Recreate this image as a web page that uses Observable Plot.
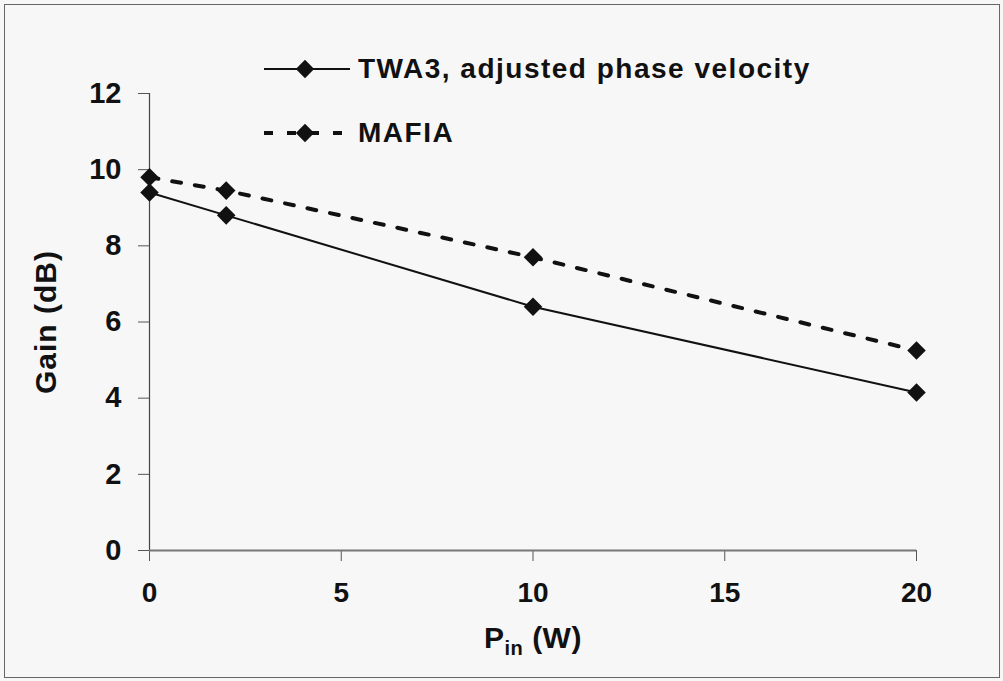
<!DOCTYPE html>
<html><head><meta charset="utf-8">
<script src="https://cdn.jsdelivr.net/npm/d3@7"></script>
<script src="https://cdn.jsdelivr.net/npm/@observablehq/plot@0.6"></script>
<style>
html,body{margin:0;padding:0;background:#f7f7f7;}
#wrap{position:relative;width:1003px;height:681px;overflow:hidden;font-family:"Liberation Sans",Arial,sans-serif;font-weight:bold;color:#111;}
#frame{position:absolute;left:4px;top:4px;width:996px;height:674px;border:1.5px solid #666;box-sizing:border-box;}
#chart{position:absolute;left:0;top:0;}
.leg{position:absolute;display:flex;align-items:center;font-size:28px;letter-spacing:1.5px;height:32px;}
.leg svg{margin-right:6px;}
#xtitle{position:absolute;left:484px;top:621px;font-size:30px;letter-spacing:0.5px;}
#xtitle sub{font-size:20px;vertical-align:-7px;}
#chart text.ytitle{letter-spacing:1px;}
</style>
</head><body>
<div id="wrap"><div id="frame"></div><div id="chart"></div>
<div id="leg1" class="leg" style="left:264px;top:53px;"></div>
<div id="leg2" class="leg" style="left:264px;top:117px;"></div>
<div id="xtitle">P<sub>in</sub> (W)</div>
</div>
<script>
const pin = [0, 2, 10, 20];
const twa3 = [9.4, 8.8, 6.4, 4.15];
const mafia = [9.8, 9.45, 7.7, 5.25];
const seriesNames = ["TWA3, adjusted phase velocity", "MAFIA"];
const xTicks = [0, 5, 10, 15, 20];
const yTicks = [0, 2, 4, 6, 8, 10, 12];
const yTitle = "Gain (dB)";

const twaRows = pin.map((p, i) => ({x: p, y: twa3[i], s: seriesNames[0]}));
const mafiaRows = pin.map((p, i) => ({x: p, y: mafia[i], s: seriesNames[1]}));
const all = twaRows.concat(mafiaRows);

const plot = Plot.plot({
  width: 1003, height: 681,
  marginLeft: 149, marginRight: 87, marginTop: 93, marginBottom: 131,
  x: {domain: [0, 20]},
  y: {domain: [0, 12]},
  style: {background: "transparent", fontFamily: "'Liberation Sans', Arial, sans-serif", color: "#111"},
  marks: [
    Plot.axisY(yTicks, {tickSize: 11, tickPadding: 17, fontSize: 29, fontWeight: "bold", label: null, stroke: "#555"}),
    Plot.axisX(xTicks, {tickSize: 11, tickPadding: 21, fontSize: 28, fontWeight: "bold", label: null, stroke: "#555"}),
    Plot.ruleX([0], {stroke: "#444", strokeWidth: 1.2}),
    Plot.ruleY([0], {stroke: "#777", strokeWidth: 2}),
    Plot.line(twaRows, {x: "x", y: "y", stroke: "#111", strokeWidth: 2}),
    Plot.line(mafiaRows, {x: "x", y: "y", stroke: "#111", strokeWidth: 4, strokeDasharray: "9,14"}),
    Plot.dot(all, {x: "x", y: "y", symbol: "square", rotate: 45, r: 7.4, fill: "#111", stroke: "none"}),
    Plot.text([yTitle], {frameAnchor: "left", dx: -103, rotate: -90, fontSize: 30, fontWeight: "bold", textAnchor: "middle", lineAnchor: "middle", fill: "#111", className: "ytitle"})
  ]
});
document.getElementById("chart").appendChild(plot);
plot.querySelectorAll("text").forEach(t => { if (t.textContent === yTitle) t.classList.add("ytitle"); });

function legendSvg(dashed) {
  const ns = "http://www.w3.org/2000/svg";
  const svg = document.createElementNS(ns, "svg");
  svg.setAttribute("width", 88); svg.setAttribute("height", 24);
  const l = document.createElementNS(ns, "line");
  l.setAttribute("x1", 0); l.setAttribute("x2", 86); l.setAttribute("y1", 12); l.setAttribute("y2", 12);
  l.setAttribute("stroke", "#111");
  l.setAttribute("stroke-width", dashed ? 4 : 2);
  if (dashed) l.setAttribute("stroke-dasharray", "9,14");
  svg.appendChild(l);
  const d = document.createElementNS(ns, "rect");
  d.setAttribute("x", -6.5); d.setAttribute("y", -6.5); d.setAttribute("width", 13); d.setAttribute("height", 13);
  d.setAttribute("fill", "#111");
  d.setAttribute("transform", "translate(41,12) rotate(45)");
  svg.appendChild(d);
  return svg;
}
[["leg1", false, seriesNames[0]], ["leg2", true, seriesNames[1]]].forEach(([id, dashed, name]) => {
  const el = document.getElementById(id);
  el.appendChild(legendSvg(dashed));
  const span = document.createElement("span");
  span.textContent = name;
  el.appendChild(span);
});
</script>
</body></html>
